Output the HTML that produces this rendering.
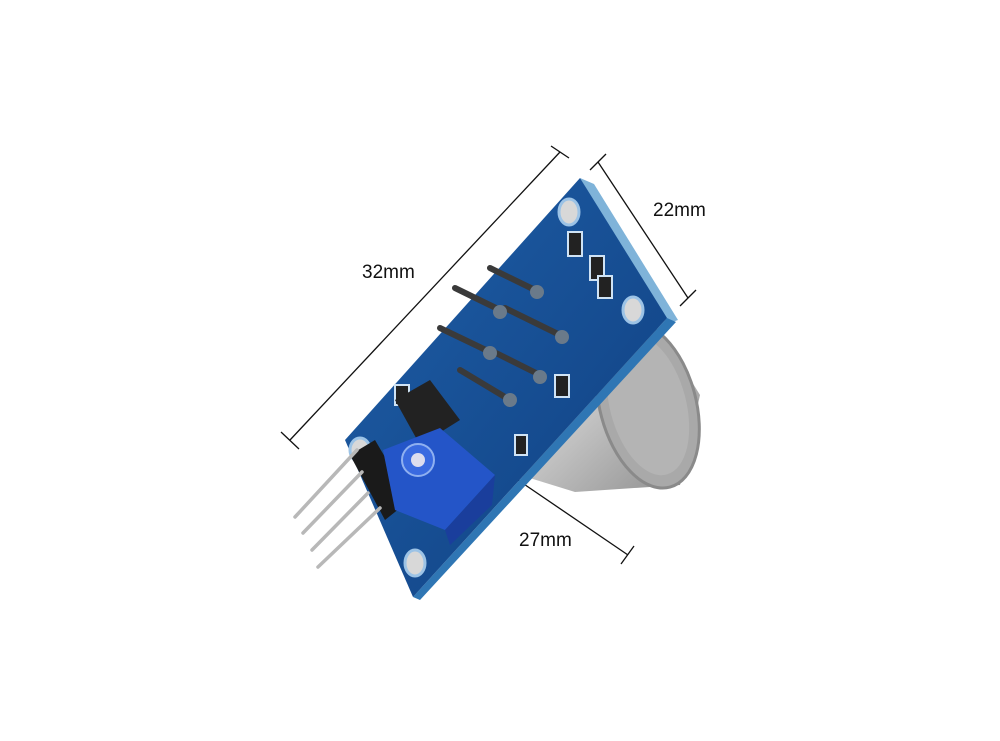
<!DOCTYPE html>
<html><head><meta charset="utf-8"><style>
html,body{margin:0;padding:0;background:#fff;}
svg{display:block;}
text{font-family:"Liberation Sans",sans-serif;}
</style></head><body>
<svg width="1000" height="741" viewBox="0 0 1000 741" xmlns="http://www.w3.org/2000/svg">
<defs>
<linearGradient id="metal" x1="0" y1="0" x2="1" y2="1">
<stop offset="0" stop-color="#f0f0f0"/><stop offset="0.5" stop-color="#c0c0c0"/><stop offset="1" stop-color="#8a8a8a"/>
</linearGradient>
<linearGradient id="board" x1="0" y1="0" x2="1" y2="1">
<stop offset="0" stop-color="#1f5fa8"/><stop offset="1" stop-color="#0f3f80"/>
</linearGradient>
</defs>
<g stroke="#111" stroke-width="1.3" fill="none">
<line x1="290" y1="440" x2="560" y2="152"/>
<line x1="281" y1="432" x2="299" y2="449"/>
<line x1="551" y1="146" x2="569" y2="158"/>
<line x1="598" y1="162" x2="688" y2="298"/>
<line x1="590" y1="170" x2="606" y2="154"/>
<line x1="680" y1="306" x2="696" y2="290"/>
<line x1="515" y1="478" x2="628" y2="555"/>
<line x1="621" y1="564" x2="634" y2="546"/>
</g>
<text x="362" y="278" font-size="19" fill="#111">32mm</text>
<text x="653" y="216" font-size="19" fill="#111">22mm</text>
<text x="519" y="546" font-size="19" fill="#111">27mm</text>
<!-- metal sensor -->
<path d="M560 345 L655 322 L700 395 L680 485 L575 492 L520 475 Z" fill="url(#metal)"/>
<ellipse cx="648" cy="405" rx="48" ry="85" transform="rotate(-15 648 405)" fill="#a9a9a9" stroke="#8a8a8a" stroke-width="3"/>
<ellipse cx="648" cy="405" rx="38" ry="72" transform="rotate(-15 648 405)" fill="#b4b4b4"/>
<!-- board edge -->
<polygon points="580,178 594,184 678,320 667,324" fill="#7fb3d9"/>
<polygon points="667,318 676,322 420,600 413,597" fill="#2f76b4"/>
<polygon points="345,440 580,178 667,318 413,597" fill="url(#board)"/>
<ellipse cx="569" cy="212" rx="10" ry="13" fill="#d8d8d8" stroke="#9cc3e6" stroke-width="3"/>
<ellipse cx="633" cy="310" rx="10" ry="13" fill="#d8d8d8" stroke="#9cc3e6" stroke-width="3"/>
<ellipse cx="415" cy="563" rx="10" ry="13" fill="#d8d8d8" stroke="#9cc3e6" stroke-width="3"/>
<ellipse cx="360" cy="450" rx="10" ry="12" fill="#d8d8d8" stroke="#9cc3e6" stroke-width="3"/>
<g fill="#222" stroke="#cfe3f5" stroke-width="2">
<rect x="568" y="232" width="14" height="24"/>
<rect x="590" y="256" width="14" height="24"/>
<rect x="598" y="276" width="14" height="22"/>
<rect x="555" y="375" width="14" height="22"/>
<rect x="515" y="435" width="12" height="20"/>
<rect x="395" y="385" width="14" height="20"/>
</g>
<polygon points="395,400 430,380 460,420 420,445" fill="#222"/>
<g stroke="#3a3a3a" stroke-width="6" stroke-linecap="round">
<line x1="490" y1="268" x2="535" y2="290"/>
<line x1="455" y1="288" x2="500" y2="310"/>
<line x1="505" y1="308" x2="560" y2="335"/>
<line x1="440" y1="328" x2="490" y2="352"/>
<line x1="490" y1="350" x2="540" y2="375"/>
<line x1="460" y1="370" x2="510" y2="400"/>
</g>
<g fill="#6a7a8a"><circle cx="537" cy="292" r="7"/><circle cx="500" cy="312" r="7"/><circle cx="562" cy="337" r="7"/><circle cx="490" cy="353" r="7"/><circle cx="540" cy="377" r="7"/><circle cx="510" cy="400" r="7"/></g>
<polygon points="350,455 375,440 410,500 385,520" fill="#1a1a1a"/>
<g stroke="#b8b8b8" stroke-width="3.5" stroke-linecap="round">
<line x1="357" y1="450" x2="295" y2="517"/>
<line x1="362" y1="472" x2="303" y2="533"/>
<line x1="368" y1="493" x2="312" y2="550"/>
<line x1="380" y1="508" x2="318" y2="567"/>
</g>
<polygon points="383,450 440,428 495,475 445,530 395,510" fill="#2455c8"/>
<polygon points="445,530 495,475 492,505 450,545" fill="#1a3e9c"/>
<circle cx="418" cy="460" r="16" fill="#3a6ae0" stroke="#8fb0f0" stroke-width="2"/>
<circle cx="418" cy="460" r="7" fill="#dde"/>
</svg>
</body></html>
